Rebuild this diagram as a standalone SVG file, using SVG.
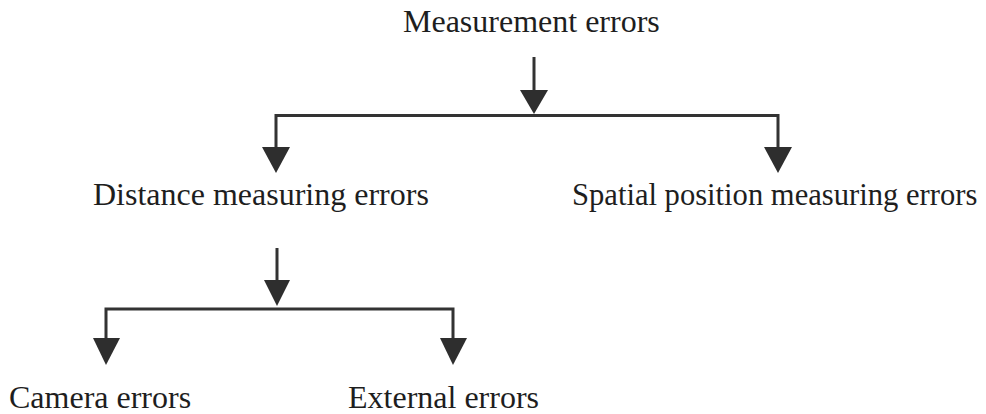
<svg xmlns="http://www.w3.org/2000/svg" width="986" height="414" viewBox="0 0 986 414">
<style>
text{font-family:"Liberation Serif","Times New Roman",serif;font-size:32px;fill:#1e1e1e}
.c{fill:none;stroke:#333;stroke-width:3}
.h{fill:#2e2e2e}
</style>
<rect width="986" height="414" fill="#fff"/>
<g id="connectors">
<path class="c" d="M534,57 V90"/><path class="h" d="M520,90 L548,90 L534,114 Z"/>
<path class="c" d="M276,147 V115.5 H778 V147"/>
<path class="h" d="M262,147 L290,147 L276,173 Z"/>
<path class="h" d="M764,147 L792,147 L778,173 Z"/>
<path class="c" d="M277,248 V281"/><path class="h" d="M264,280 L290,280 L277,306 Z"/>
<path class="c" d="M106,338 V309 H453 V338"/>
<path class="h" d="M93,338 L120,338 L106,365 Z"/>
<path class="h" d="M440,338 L467,338 L453,365 Z"/>
</g>
<g id="n1"><text x="403" y="32">Measurement errors</text></g>
<g id="n2"><text x="93" y="205">Distance measuring errors</text></g>
<g id="n3"><text x="572" y="205" style="font-size:30.6px">Spatial position measuring errors</text></g>
<g id="n4"><text x="9" y="408">Camera errors</text></g>
<g id="n5"><text x="348" y="408">External errors</text></g>
</svg>
